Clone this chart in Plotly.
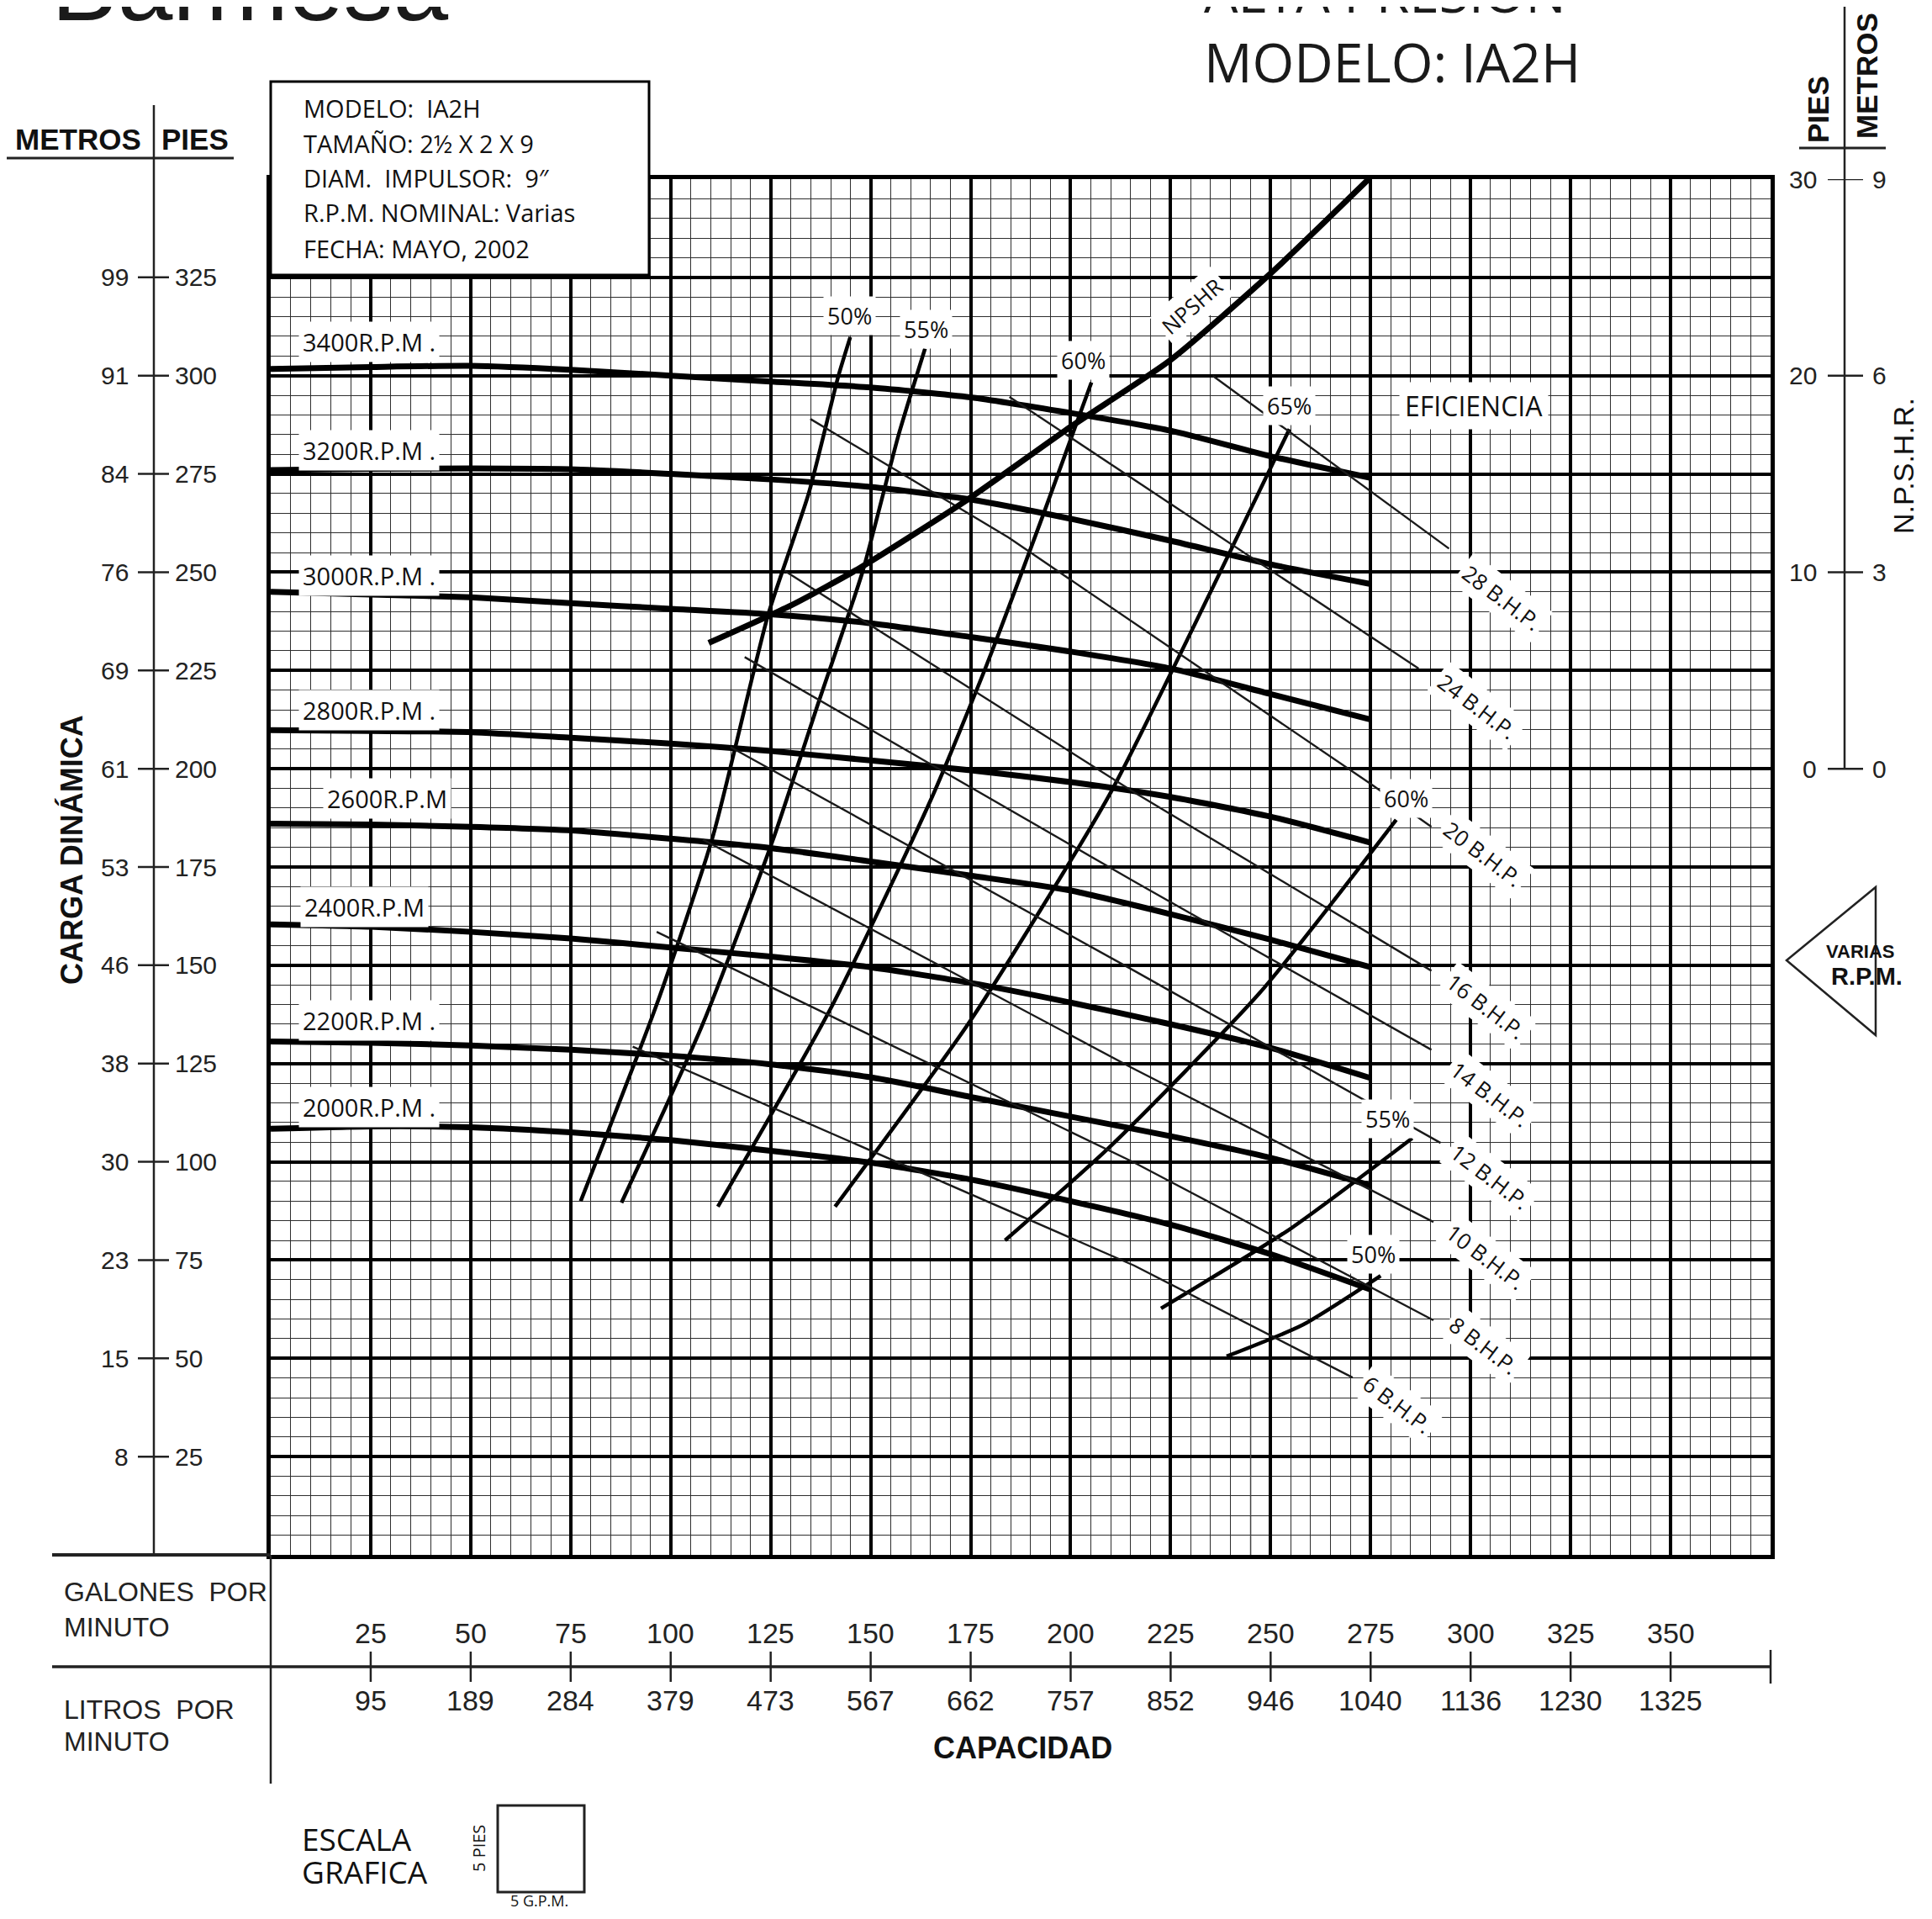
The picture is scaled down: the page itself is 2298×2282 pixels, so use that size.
import plotly.graph_objects as go

# ---------------- data ----------------
gpm = [0, 25, 50, 75, 100, 125, 150, 175, 200, 225, 250, 275]
rpm_names = ["3400", "3200", "3000", "2800", "2600", "2400", "2200", "2000"]
head_3400 = [301.7, 302.2, 302.5, 301.5, 300.0, 298.5, 297.0, 294.5, 290.5, 286.0, 279.5, 274.0]
head_3200 = [276.0, 276.3, 276.4, 276.2, 275.0, 273.6, 271.7, 268.5, 263.6, 258.0, 252.0, 247.0]
head_3000 = [245.0, 244.3, 243.6, 242.1, 240.7, 239.3, 237.0, 233.5, 229.8, 225.5, 219.0, 212.5]
head_2800 = [209.8, 209.6, 209.3, 207.9, 206.4, 204.5, 202.1, 199.6, 196.6, 192.8, 187.8, 181.2]
head_2600 = [186.0, 185.8, 185.2, 184.3, 182.2, 179.8, 176.4, 172.8, 169.0, 163.0, 156.5, 149.5]
head_2400 = [160.4, 159.8, 158.5, 156.8, 154.5, 152.2, 149.5, 145.5, 140.5, 135.0, 129.0, 121.3]
head_2200 = [130.6, 130.3, 129.6, 128.5, 127.0, 124.8, 121.5, 116.5, 111.5, 106.5, 101.0, 94.0]
head_2000 = [108.4, 109.0, 108.8, 107.5, 105.5, 102.8, 99.8, 95.5, 90.0, 84.0, 76.5, 67.5]
heads = [head_3400, head_3200, head_3000, head_2800, head_2600, head_2400, head_2200, head_2000]

rpm_label_text = ["3400R.P.M .", "3200R.P.M .", "3000R.P.M .", "2800R.P.M .",
                  "2600R.P.M", "2400R.P.M", "2200R.P.M .", "2000R.P.M ."]
rpm_label_gpm = [24.6, 24.6, 24.6, 24.6, 29.2, 23.4, 24.6, 24.6]
rpm_label_head = [308.7, 281.1, 249.1, 215.0, 192.4, 164.8, 136.0, 114.0]

# iso-efficiency lines
eff50L_gpm = [77.5, 96.5, 110.5, 124.4, 134.5, 141.9, 144.9]
eff50L_head = [90.0, 140.0, 182.6, 239.3, 270.0, 299.8, 309.8]
eff55L_gpm = [87.7, 108.0, 125.6, 137.0, 148.0, 157.0, 163.6]
eff55L_head = [89.6, 135.0, 182.0, 217.0, 250.2, 285.0, 306.9]
eff60L_gpm = [111.8, 140.0, 165.0, 179.0, 193.1, 205.2]
eff60L_head = [88.6, 139.0, 192.0, 226.4, 264.5, 298.3]
eff65_gpm = [141.1, 175.0, 209.5, 235.0, 254.7]
eff65_head = [88.6, 136.0, 193.0, 245.0, 286.4]
eff60R_gpm = [183.6, 210.0, 247.3, 281.4]
eff60R_head = [80.0, 104.0, 143.0, 187.0]
eff55R_gpm = [222.6, 255.0, 285.4]
eff55R_head = [62.7, 83.0, 106.0]
eff50R_gpm = [239.0, 258.0, 277.5]
eff50R_head = [50.5, 58.5, 71.0]
eff_gpm = [eff50L_gpm, eff55L_gpm, eff60L_gpm, eff65_gpm, eff60R_gpm, eff55R_gpm, eff50R_gpm]
eff_head = [eff50L_head, eff55L_head, eff60L_head, eff65_head, eff60R_head, eff55R_head, eff50R_head]
eff_label_text = ["50%", "55%", "60%", "65%", "60%", "55%", "50%"]
eff_label_gpm = [144.7, 163.8, 203.2, 254.6, 283.9, 279.2, 275.6]
eff_label_head = [315.3, 311.8, 304.0, 292.4, 192.4, 111.0, 76.4]

# brake horsepower lines
bhp_names = ["28", "24", "20", "16", "14", "12", "10", "8", "6"]
bhp_gpm = [[235.5, 294.6], [184.7, 287.0], [134.9, 184.5, 275.2, 290.2],
           [128.4, 215.9, 290.2], [118.5, 215.9, 290.2], [115.0, 215.9, 292.5],
           [108.0, 215.9, 290.7], [96.5, 215.9, 290.7], [90.5, 215.9, 270.5]]
bhp_head = [[300.0, 256.0], [294.6, 225.5], [289.0, 258.8, 196.0, 185.2],
            [250.4, 194.0, 148.6], [228.4, 171.3, 128.5], [205.5, 148.6, 104.8],
            [182.0, 123.6, 84.7], [158.5, 99.8, 59.7], [129.3, 73.6, 45.1]]
bhp_label_gpm = [307.9, 301.7, 303.3, 303.9, 304.8, 304.8, 303.9, 303.3, 281.7]
bhp_label_head = [243.5, 215.9, 178.3, 139.4, 117.2, 96.2, 75.8, 53.2, 38.2]

# NPSHR curve (feet, right scale)
npsh_gpm = [109.5, 130.0, 147.5, 174.0, 200.0, 225.0, 250.0, 274.5]
npsh_ft = [6.4, 8.3, 10.24, 13.66, 17.4, 20.8, 25.2, 30.0]

stray_gpm = [245.0, 245.0]
stray_head = [45.0, 0.0]

# axis scales / tick labels
gpm_ticks = [25, 50, 75, 100, 125, 150, 175, 200, 225, 250, 275, 300, 325, 350]
lpm_ticks = [95, 189, 284, 379, 473, 567, 662, 757, 852, 946, 1040, 1136, 1230, 1325]
pies_ticks = [325, 300, 275, 250, 225, 200, 175, 150, 125, 100, 75, 50, 25]
metros_ticks = [99, 91, 84, 76, 69, 61, 53, 46, 38, 30, 23, 15, 8]
npsh_pies_ticks = [0, 10, 20, 30]
npsh_metros_ticks = [0, 3, 6, 9]

X_RANGE = [0, 375]
Y_RANGE = [0, 350]
NPSH_RANGE = [-40, 30]

# ---------------- layout geometry (screen pixels) ----------------
SW, SH = 2298, 2282          # browser window
OFF = 8                      # default page margin around the plot div
W, H = SW - 2 * OFF, SH - 2 * OFF
PX0, PX1, PY0, PY1 = 322, 2106, 213, 1849   # plot area on screen
L, T = PX0 - OFF, PY0 - OFF
R, B = SW - PX1 - OFF, SH - PY1 - OFF
PW = PX1 - PX0
PH = PY1 - PY0


def px(x):
    return (x - PX0) / PW


def py(y):
    return (PY1 - y) / PH


FN = "Open Sans"
FA = "Liberation Sans"
INK = "#111111"

fig = go.Figure()

for name, h in zip(rpm_names, heads):
    fig.add_trace(go.Scatter(x=gpm, y=h, mode="lines", name=name + " RPM",
                             line=dict(color="black", width=7, shape="spline", smoothing=0.6),
                             hoverinfo="skip"))
for g, h in zip(eff_gpm, eff_head):
    fig.add_trace(go.Scatter(x=g, y=h, mode="lines",
                             line=dict(color="black", width=4.5, shape="spline", smoothing=0.6),
                             hoverinfo="skip"))
for g, h in zip(bhp_gpm, bhp_head):
    fig.add_trace(go.Scatter(x=g, y=h, mode="lines",
                             line=dict(color="#1a1a1a", width=2.4), hoverinfo="skip"))
fig.add_trace(go.Scatter(x=stray_gpm, y=stray_head, mode="lines",
                         line=dict(color="#444", width=1.5), hoverinfo="skip"))
fig.add_trace(go.Scatter(x=npsh_gpm, y=npsh_ft, yaxis="y2", mode="lines",
                         line=dict(color="black", width=7, shape="spline", smoothing=0.6),
                         hoverinfo="skip"))

annotations = []


def ann(text, x, y, xref="paper", yref="paper", size=27, family=FN, color=INK,
        xanchor="center", yanchor="middle", angle=0, bg=None, pad=2, align="center"):
    d = dict(text=text, x=x, y=y, xref=xref, yref=yref, showarrow=False,
             font=dict(size=size, family=family, color=color),
             xanchor=xanchor, yanchor=yanchor, textangle=angle, borderpad=pad, align=align)
    if bg:
        d["bgcolor"] = bg
    annotations.append(d)


for t, x, y in zip(rpm_label_text, rpm_label_gpm, rpm_label_head):
    ann(t, x, y, "x", "y", size=29, bg="white", pad=4)
for t, x, y in zip(eff_label_text, eff_label_gpm, eff_label_head):
    ann(t, x, y, "x", "y", size=27, bg="white", pad=4)
ann("EFICIENCIA", 300.8, 292.4, "x", "y", size=32, bg="white", pad=6)
ann("NPSHR", 230.3, 317.8, "x", "y", size=26, bg="white", pad=4, angle=-41)
for n, x, y in zip(bhp_names, bhp_label_gpm, bhp_label_head):
    ann(n + " B.H.P.", x, y, "x", "y", size=26, bg="white", pad=4, angle=37)

shapes = []


def seg(x0, y0, x1, y1, xref="paper", yref="paper", w=2.5, color="#222"):
    shapes.append(dict(type="line", x0=x0, y0=y0, x1=x1, y1=y1, xref=xref, yref=yref,
                       line=dict(color=color, width=w), layer="above"))


# ---- left head scale ----
seg(px(183), py(125), px(183), 0, w=2.5)
seg(px(7), py(188), px(278), py(188), w=3)
seg(px(62), 0, 0, 0, w=4)
ann("<b>METROS</b>", px(93), py(166), size=35, family=FA)
ann("<b>PIES</b>", px(232), py(166), size=35, family=FA)
for p, m in zip(pies_ticks, metros_ticks):
    seg(px(164), p, px(201), p, "paper", "y", w=2.5)
    ann(str(p), px(205), p, "paper", "y", size=30, family=FA, color="#222", xanchor="left")
    ann(str(m), px(156), p, "paper", "y", size=30, family=FA, color="#222", xanchor="right")
ann("<b>CARGA DINÁMICA</b>", px(85), py(1011), size=36, family=FA, angle=-90)

# ---- bottom capacity scale ----
seg(0, 0, 0, py(2121), w=2.5)
seg(px(62), py(1982), 1, py(1982), w=3.5)
seg(1, py(1962), 1, py(2002), w=2.5)
for g, lp in zip(gpm_ticks, lpm_ticks):
    seg(g, py(1964), g, py(2000), "x", "paper", w=2.5)
    ann(str(g), g, py(1942), "x", "paper", size=34, family=FA, color="#222")
    ann(str(lp), g, py(2022), "x", "paper", size=34, family=FA, color="#222")
ann("GALONES  POR", px(73), py(1893), size=32, family=FA, color="#222", xanchor="left")
ann("MINUTO", px(73), py(1935), size=32, family=FA, color="#222", xanchor="left")
ann("LITROS  POR", px(73), py(2033), size=32, family=FA, color="#222", xanchor="left")
ann("MINUTO", px(73), py(2071), size=32, family=FA, color="#222", xanchor="left")
ann("<b>CAPACIDAD</b>", px(1216), py(2078), size=36, family=FA)

# scale legend
ann("ESCALA", px(358), py(2186), size=37, family=FN, xanchor="left", pad=0)
ann("GRAFICA", px(358), py(2225), size=37, family=FN, xanchor="left", pad=0)
shapes.append(dict(type="rect", xref="paper", yref="paper", x0=px(592), x1=px(695),
                   y0=py(2250), y1=py(2147), line=dict(color="#222", width=3), layer="above"))
ann("5 PIES", px(569), py(2198), size=20, family=FN, angle=-90)
ann("5 G.P.M.", px(641), py(2260), size=18, family=FN, pad=0)

# ---- right NPSHR scale ----
npsh0 = (0 - NPSH_RANGE[0]) / (NPSH_RANGE[1] - NPSH_RANGE[0])
seg(px(2194), py(7), px(2194), npsh0, w=2.5)
seg(px(2140), py(176), px(2243), py(176), w=3)
for p, m in zip(npsh_pies_ticks, npsh_metros_ticks):
    seg(px(2174), p, px(2216), p, "paper", "y2", w=2.5)
    ann(str(p), px(2164), p, "paper", "y2", size=30, family=FA, color="#222", xanchor="right")
    ann(str(m), px(2224), p, "paper", "y2", size=30, family=FA, color="#222", xanchor="left")
ann("<b>PIES</b>", px(2162), py(130), size=35, family=FA, angle=-90)
ann("<b>METROS</b>", px(2220), py(90), size=35, family=FA, angle=-90)
ann("N.P.S.H.R.", px(2264), py(554), size=34, family=FA, angle=-90)
shapes.append(dict(type="path", xref="paper", yref="paper",
                   path="M {} {} L {} {} L {} {} Z".format(px(2125), py(1142), px(2231), py(1055),
                                                          px(2231), py(1231)),
                   line=dict(color="#222", width=2.5), layer="above"))
ann("<b>VARIAS</b>", px(2213), py(1131), size=22, family=FA)
ann("<b>R.P.M.</b>", px(2220), py(1161), size=29, family=FA)

# ---- info box ----
shapes.append(dict(type="rect", xref="paper", yref="paper", x0=0, x1=px(772),
                   y0=py(327), y1=py(97), fillcolor="white",
                   line=dict(color="black", width=3), layer="above"))
info_lines = ["MODELO:  IA2H", "TAMAÑO: 2½ X 2 X 9", "DIAM.  IMPULSOR:  9″",
              "R.P.M. NOMINAL: Varias", "FECHA: MAYO, 2002"]
info_y = [129, 170, 211, 252, 295]
for t, yy in zip(info_lines, info_y):
    ann(t, px(358), py(yy), size=29, family=FN, xanchor="left")

# ---- titles ----
ann("Barmesa", px(58), py(-17), size=118, family=FA, color="#1a1a1a", xanchor="left")
ann("ALTA PRESION", px(1429), py(-9), size=64, family=FN, color="#1a1a1a", xanchor="left")
ann("MODELO: IA2H", px(1429), py(73), size=64, family=FN, color="#1a1a1a", xanchor="left")

axis_common = dict(showgrid=True, gridcolor="black", gridwidth=4, tick0=0, dtick=25,
                   minor=dict(tick0=0, dtick=5, showgrid=True, gridcolor="#2e2e2e", gridwidth=1.2),
                   showline=True, mirror=True, linecolor="black", linewidth=5,
                   zeroline=False, showticklabels=False, ticks="", fixedrange=True)

fig.update_layout(
    width=W, height=H, autosize=False,
    margin=dict(l=L, r=R, t=T, b=B, autoexpand=False),
    paper_bgcolor="white", plot_bgcolor="white", showlegend=False,
    xaxis=dict(range=X_RANGE, **axis_common),
    yaxis=dict(range=Y_RANGE, **axis_common),
    yaxis2=dict(range=NPSH_RANGE, overlaying="y", visible=False, showgrid=False),
    annotations=annotations, shapes=shapes,
)

fig.write_html("out.html", config={"displayModeBar": False})
